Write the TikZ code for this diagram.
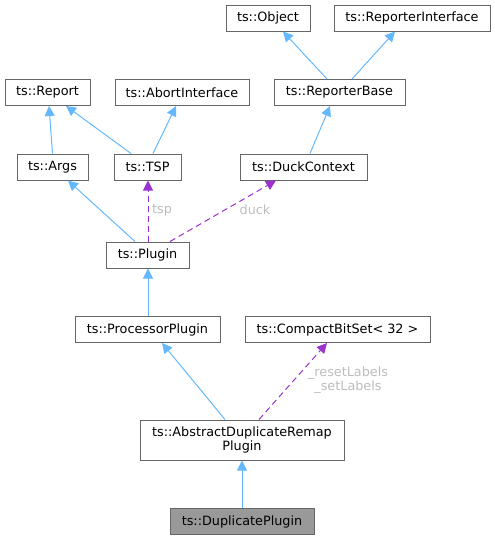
\documentclass[tikz,border=0pt]{standalone}
\usepackage{fontspec}
\setmainfont{DejaVu Sans}
\usepackage{tikz}
\usetikzlibrary{positioning, arrows.meta, calc}
\definecolor{inhblue}{HTML}{63B8FF}
\definecolor{usepurple}{HTML}{9A32CD}
\definecolor{boxgray}{HTML}{666666}
\definecolor{lblgray}{HTML}{BDBDBD}
\definecolor{curfill}{HTML}{999999}

\begin{document}
\begin{tikzpicture}[x=0.75pt, y=-0.75pt,
		every node/.style={font=\fontsize{9.6}{10.5}\selectfont},
		cls/.style={draw=boxgray, line width=0.75pt, fill=white, minimum height=19.5pt, inner sep=0pt, align=center},
		inh/.style={draw=inhblue, line width=0.75pt, -{Triangle[length=7.5pt, width=7.5pt]}},
		uses/.style={draw=usepurple, line width=0.75pt, dash pattern=on 4.5pt off 3pt, -{Triangle[length=7.5pt, width=7.5pt]}},
		lbl/.style={text=lblgray, align=center}]
		\useasboundingbox (0, 0) rectangle (495, 540);
		
		% Class boxes
		\node[cls, minimum width=63pt] (object) at (268, 18) {ts::Object};
		\node[cls, minimum width=117pt] (rinterface) at (412, 18) {ts::ReporterInterface};
		\node[cls, minimum width=63.75pt] (report) at (47.5, 92.5) {ts::Report};
		\node[cls, minimum width=100.5pt] (abort) at (182, 92.5) {ts::AbortInterface};
		\node[cls, minimum width=98.25pt] (rbase) at (339.5, 92.5) {ts::ReporterBase};
		\node[cls, minimum width=53.25pt] (args) at (52.5, 167) {ts::Args};
		\node[cls, minimum width=50.25pt] (tsp) at (147.5, 167) {ts::TSP};
		\node[cls, minimum width=95.25pt] (duck) at (303.5, 167) {ts::DuckContext};
		\node[cls, minimum width=62.25pt] (plugin) at (147.5, 255) {ts::Plugin};
		\node[cls, minimum width=108.75pt] (procplugin) at (147.5, 329.5) {ts::ProcessorPlugin};
		\node[cls, minimum width=138.75pt] (bitset) at (337.5, 329.5) {ts::CompactBitSet< 32 >};
		\node[cls, minimum width=153pt, minimum height=30pt] (absdup) at (242, 440) {ts::AbstractDuplicateRemap\\Plugin};
		\node[cls, minimum width=108pt, fill=curfill] (dup) at (242, 521.5) {ts::DuplicatePlugin};
		
		% Inheritance
		\draw[inh] ($(rbase.north)+(-12.5,0)$) -- ($(object.south)+(15,0)$);
		\draw[inh] ($(rbase.north)+(12.5,0)$) -- ($(rinterface.south)+(-17,0)$);
		\draw[inh] ($(args.north)+(0,0)$) -- ($(report.south)+(1.5,0)$);
		\draw[inh] ($(tsp.north)+(-16.5,0)$) -- ($(report.south)+(18.5,0)$);
		\draw[inh] ($(tsp.north)+(5.5,0)$) -- ($(abort.south)+(-6,0)$);
		\draw[inh] ($(duck.north)+(6.5,0)$) -- ($(rbase.south)+(-9.5,0)$);
		\draw[inh] ($(plugin.north)+(-12.5,0)$) -- ($(args.south)+(15.5,0)$);
		\draw[inh] ($(procplugin.north)+(0.5,0)$) -- ($(plugin.south)+(0.5,0)$);
		\draw[inh] ($(absdup.north)+(-17,0)$) -- ($(procplugin.south)+(14.5,0)$);
		\draw[inh] (dup) -- (absdup);
		
		% Usage relations
		\draw[uses] ($(plugin.north)+(0.5,0)$) -- ($(tsp.south)+(0.5,0)$);
		\draw[uses] ($(plugin.north)+(22.5,0)$) -- ($(duck.south)+(-27.5,0)$);
		\draw[uses] ($(absdup.north)+(17,0)$) -- ($(bitset.south)+(-10.5,0)$);
		\node[lbl] at (162, 210) {tsp};
		\node[lbl] at (255, 210) {duck};
		\node[lbl] at (348, 380) {\_resetLabels\\\_setLabels};
	\end{tikzpicture}
\end{document}
